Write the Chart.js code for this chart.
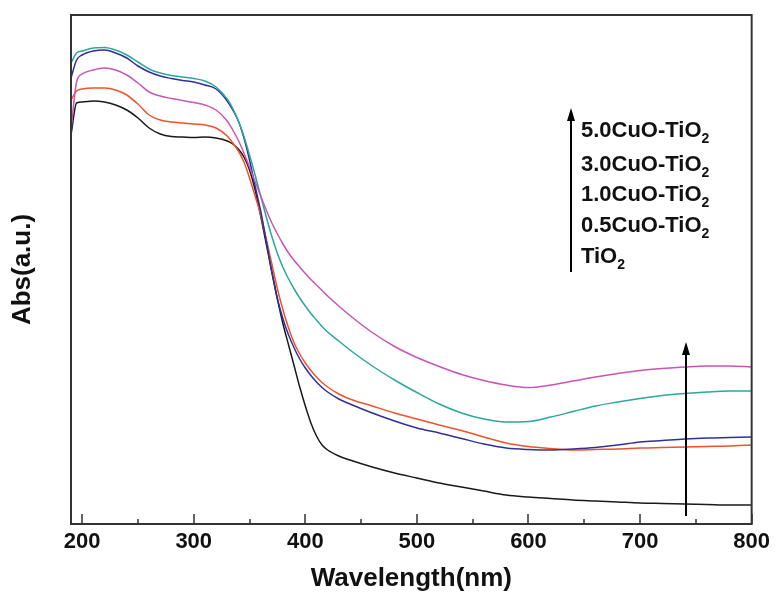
<!DOCTYPE html>
<html>
<head>
<meta charset="utf-8">
<script src="https://cdn.jsdelivr.net/npm/chart.js@4"></script>
<style>
  html, body { margin: 0; padding: 0; background: #fff; }
  canvas { display: block; }
</style>
</head>
<body>
<canvas id="chart" width="775" height="592"></canvas>
<script>
// wavelength (nm) of every sampled point, denser around the absorption edge
const wavelengths = [190, 195, 200, 210, 220, 230, 240, 250, 260, 270, 280, 290, 300, 310, 320,
  330, 335, 340, 345, 350, 355, 360, 365, 370, 375, 380, 385, 390, 395, 400, 405, 410, 415, 420,
  430, 440, 460, 480, 500, 520, 540, 560, 580, 600, 620, 640, 660, 680, 700, 720, 740, 760, 780, 800];

// absorbance, arbitrary units
const tio2 = [3.89, 4.21, 4.22, 4.23, 4.22, 4.19, 4.14, 4.06, 3.96, 3.90, 3.875, 3.87, 3.865, 3.87, 3.86,
  3.83, 3.80, 3.75, 3.67, 3.54, 3.34, 3.08, 2.80, 2.52, 2.25, 2.00, 1.79, 1.58, 1.37, 1.18, 1.01, 0.88, 0.79, 0.74,
  0.68, 0.64, 0.57, 0.51, 0.46, 0.41, 0.37, 0.33, 0.29, 0.27, 0.255, 0.24, 0.23, 0.22, 0.21, 0.205, 0.20, 0.195, 0.19, 0.19];
const cuo05 = [4.24, 4.33, 4.35, 4.36, 4.36, 4.34, 4.29, 4.20, 4.09, 4.04, 4.02, 4.01, 4.00, 3.99, 3.96,
  3.88, 3.81, 3.73, 3.62, 3.46, 3.28, 3.09, 2.85, 2.60, 2.35, 2.14, 1.96, 1.81, 1.70, 1.61, 1.535, 1.47, 1.415, 1.37,
  1.30, 1.25, 1.18, 1.11, 1.05, 0.99, 0.935, 0.87, 0.81, 0.775, 0.755, 0.74, 0.745, 0.75, 0.76, 0.765, 0.77, 0.775, 0.78, 0.79];
const cuo10 = [4.46, 4.64, 4.69, 4.73, 4.74, 4.71, 4.66, 4.58, 4.52, 4.48, 4.455, 4.435, 4.42, 4.39, 4.35,
  4.23, 4.14, 4.03, 3.86, 3.64, 3.38, 3.13, 2.83, 2.52, 2.25, 2.05, 1.89, 1.76, 1.65, 1.56, 1.485, 1.42, 1.365, 1.32,
  1.25, 1.20, 1.11, 1.03, 0.96, 0.91, 0.855, 0.80, 0.76, 0.745, 0.74, 0.75, 0.765, 0.79, 0.82, 0.835, 0.85, 0.86, 0.865, 0.87];
const cuo30 = [4.61, 4.71, 4.73, 4.76, 4.765, 4.74, 4.69, 4.62, 4.55, 4.51, 4.485, 4.47, 4.455, 4.43, 4.37,
  4.25, 4.155, 4.03, 3.875, 3.69, 3.49, 3.28, 3.07, 2.875, 2.705, 2.565, 2.45, 2.35, 2.26, 2.18, 2.105, 2.04, 1.975, 1.92,
  1.83, 1.74, 1.58, 1.44, 1.315, 1.20, 1.11, 1.05, 1.02, 1.025, 1.07, 1.125, 1.18, 1.22, 1.255, 1.285, 1.305, 1.32, 1.33, 1.33];
const cuo50 = [3.94, 4.42, 4.50, 4.54, 4.56, 4.54, 4.49, 4.41, 4.32, 4.28, 4.255, 4.235, 4.215, 4.19, 4.14,
  4.03, 3.94, 3.835, 3.71, 3.57, 3.425, 3.28, 3.14, 3.01, 2.90, 2.80, 2.71, 2.635, 2.57, 2.505, 2.445, 2.39, 2.335, 2.28,
  2.18, 2.085, 1.915, 1.775, 1.665, 1.575, 1.495, 1.435, 1.39, 1.365, 1.39, 1.43, 1.47, 1.505, 1.535, 1.555, 1.57, 1.58, 1.58, 1.57];

const xTicks = [200, 300, 400, 500, 600, 700, 800];
const xMinorTicks = [250, 350, 450, 550, 650, 750];

// sample names, top to bottom as listed in the figure (each ends with a subscript 2)
const sampleNames = ['5.0CuO-TiO', '3.0CuO-TiO', '1.0CuO-TiO', '0.5CuO-TiO', 'TiO'];
const nameLevels = [3.93, 3.59, 3.29, 2.98, 2.67];

const FONT = "'Liberation Sans', Arial, Helvetica, sans-serif";

const toPoints = vals => vals.map((v, i) => ({ x: wavelengths[i], y: v }));

function series(label, vals, color) {
  return {
    label: label,
    data: toPoints(vals),
    borderColor: color,
    borderWidth: 1.5,
    pointRadius: 0,
    fill: false,
    cubicInterpolationMode: 'monotone'
  };
}

function arrow(ctx, x, yFrom, yTo) {
  ctx.beginPath();
  ctx.moveTo(x, yFrom);
  ctx.lineTo(x, yTo + 10);
  ctx.stroke();
  ctx.beginPath();
  ctx.moveTo(x, yTo);
  ctx.lineTo(x - 4, yTo + 13);
  ctx.lineTo(x + 4, yTo + 13);
  ctx.closePath();
  ctx.fill();
}

// box, inward ticks, arrows and sample names
const decorations = {
  id: 'decorations',
  afterDatasetsDraw(chart) {
    const { ctx, chartArea: a } = chart;
    const x = chart.scales.x, y = chart.scales.y;
    ctx.save();

    ctx.strokeStyle = '#333';
    ctx.lineWidth = 2;
    ctx.strokeRect(a.left, a.top, a.right - a.left, a.bottom - a.top);

    ctx.lineWidth = 1.5;
    ctx.beginPath();
    xTicks.forEach(v => {
      const px = Math.round(x.getPixelForValue(v));
      ctx.moveTo(px, a.bottom);
      ctx.lineTo(px, a.bottom - 10);
    });
    xMinorTicks.forEach(v => {
      const px = Math.round(x.getPixelForValue(v));
      ctx.moveTo(px, a.bottom);
      ctx.lineTo(px, a.bottom - 5);
    });
    ctx.stroke();

    ctx.strokeStyle = '#000';
    ctx.fillStyle = '#000';
    ctx.lineWidth = 2;
    arrow(ctx, Math.round(x.getPixelForValue(638.5)), y.getPixelForValue(2.52), y.getPixelForValue(4.16));
    arrow(ctx, Math.round(x.getPixelForValue(741.5)), y.getPixelForValue(0.08), y.getPixelForValue(1.82));

    ctx.fillStyle = '#111';
    ctx.textBaseline = 'middle';
    ctx.textAlign = 'left';
    const left = x.getPixelForValue(647);
    sampleNames.forEach((name, i) => {
      const py = y.getPixelForValue(nameLevels[i]);
      ctx.font = 'bold 22px ' + FONT;
      ctx.fillText(name, left, py);
      const w = ctx.measureText(name).width;
      ctx.font = 'bold 14px ' + FONT;
      ctx.fillText('2', left + w, py + 8);
    });

    ctx.restore();
  }
};

new Chart(document.getElementById('chart'), {
  type: 'line',
  data: {
    datasets: [
      series('5.0CuO-TiO2', cuo50, '#c955b5'),
      series('3.0CuO-TiO2', cuo30, '#2aa89a'),
      series('1.0CuO-TiO2', cuo10, '#30309a'),
      series('0.5CuO-TiO2', cuo05, '#f0522c'),
      series('TiO2', tio2, '#1a1a1a')
    ]
  },
  options: {
    responsive: false,
    animation: false,
    devicePixelRatio: 1,
    layout: { padding: { left: 0, top: 15, right: 23, bottom: 0 } },
    plugins: {
      legend: { display: false },
      tooltip: { enabled: false }
    },
    scales: {
      x: {
        type: 'linear',
        min: 190,
        max: 800,
        afterBuildTicks: s => { s.ticks = xTicks.map(v => ({ value: v })); },
        afterFit: s => { s.height = 68; },
        grid: { display: false, drawTicks: false },
        border: { display: false },
        ticks: {
          padding: 5,
          autoSkip: false,
          maxRotation: 0,
          color: '#111',
          font: { family: FONT, size: 22, weight: 'bold' }
        },
        title: {
          display: true,
          text: 'Wavelength(nm)',
          color: '#111',
          padding: { top: 0, bottom: -2 },
          font: { family: FONT, size: 26, weight: 'bold' }
        }
      },
      y: {
        min: 0,
        max: 5.09,
        afterFit: s => { s.width = 71; },
        grid: { display: false },
        border: { display: false },
        ticks: { display: false },
        title: {
          display: true,
          text: 'Abs(a.u.)',
          color: '#111',
          padding: { top: 7, bottom: 0 },
          font: { family: FONT, size: 26, weight: 'bold' }
        }
      }
    }
  },
  plugins: [decorations]
});
</script>
</body>
</html>
